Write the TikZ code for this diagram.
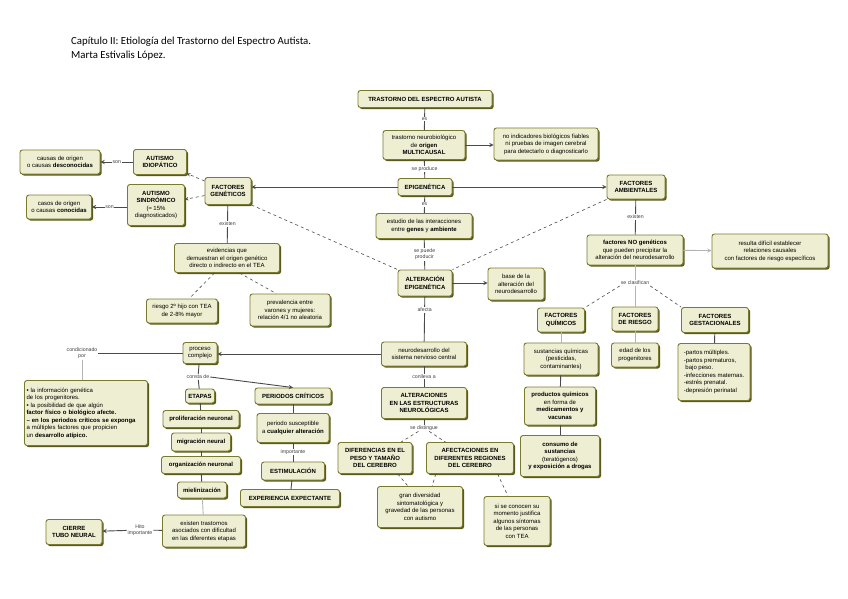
\documentclass[tikz,border=0pt]{standalone}
\usepackage{fontspec}
\setmainfont{Liberation Sans}
\newfontfamily\titulofont{Carlito}
\usetikzlibrary{shadows, positioning}

\definecolor{crema}{HTML}{EEEED2}
\definecolor{oliva}{HTML}{7A7A2E}
\definecolor{sombra}{HTML}{5A5A1C}
\definecolor{linea}{HTML}{4A4A4A}
\definecolor{lineaclara}{HTML}{B4B4B4}

\begin{document}
\begin{tikzpicture}[>=stealth, x=1pt, y=-1pt,
    caja/.style={draw=oliva, fill=crema, line width=0.9pt, rounded corners=2.5pt,
        align=center, inner sep=1.2pt, font=\fontsize{6}{7.5}\selectfont,
        drop shadow={shadow xshift=1.6pt, shadow yshift=-1.6pt, fill=sombra, opacity=1}},
    tam/.style 2 args={minimum width=#1pt, minimum height=#2pt},
    etiq/.style={fill=white, inner sep=0.8pt, font=\fontsize{5.2}{6.2}\selectfont,
        align=center, text=black!75},
    enlace/.style={draw=linea, line width=0.9pt},
    clara/.style={draw=lineaclara, line width=0.9pt},
    discont/.style={draw=linea, line width=0.6pt, dashed}]

    \useasboundingbox (0,0) rectangle (848,599);

    % =================================================================
    % 1. TÍTULO
    % =================================================================
    \node[anchor=north west, inner sep=0pt, align=left,
        font=\titulofont\fontsize{10.8}{14}\selectfont] (titulo) at (71,37)
        {Capítulo II: Etiología del Trastorno del Espectro Autista.\\
         Marta Estivalis López.};

    % =================================================================
    % 2. COLUMNA CENTRAL
    % =================================================================
    \node[caja, tam={134}{17}] (tea) at (425,99) {\textbf{TRASTORNO DEL ESPECTRO AUTISTA}};
    \node[caja, tam={82}{29}] (trast) at (424,145) {trastorno neurobiológico\\de \textbf{origen}\\\textbf{MULTICAUSAL}};
    \node[caja, tam={104}{32}] (noind) at (546,144) {no indicadores biológicos fiables\\ni pruebas de imagen cerebral\\para detectarlo o diagnosticarlo};
    \node[caja, tam={54}{17}] (epig) at (425,187) {\textbf{EPIGENÉTICA}};
    \node[caja, tam={96}{25}] (estudio) at (424,226) {estudio de las interacciones\\entre \textbf{genes} y \textbf{ambiente}};
    \node[caja, tam={54}{26}] (alterep) at (425,283) {\textbf{ALTERACIÓN}\\\textbf{EPIGENÉTICA}};
    \node[caja, tam={56}{32}] (base) at (516,284) {base de la\\alteración del\\neurodesarrollo};
    \node[caja, tam={85}{24}] (neuro) at (424,354) {neurodesarrollo del\\sistema nervioso central};
    \node[caja, tam={85}{31}] (alterac) at (424,403) {\textbf{ALTERACIONES}\\\textbf{EN LAS ESTRUCTURAS}\\\textbf{NEUROLÓGICAS}};
    \node[caja, tam={74}{31}] (difer) at (375,458) {\textbf{DIFERENCIAS EN EL}\\\textbf{PESO Y TAMAÑO}\\\textbf{DEL CEREBRO}};
    \node[caja, tam={87}{31}] (afect) at (470,458) {\textbf{AFECTACIONES EN}\\\textbf{DIFERENTES REGIONES}\\\textbf{DEL CEREBRO}};
    \node[caja, tam={85}{41}] (gran) at (420,507) {gran diversidad\\sintomatológica y\\gravedad de las personas\\con autismo};
    \node[caja, tam={66}{49}] (sicon) at (517,521) {si se conocen su\\momento justifica\\algunos síntomas\\de las personas\\con TEA};

    % =================================================================
    % 3. FACTORES GENÉTICOS (IZQUIERDA)
    % =================================================================
    \node[caja, tam={46}{27}] (fgen) at (228,191) {\textbf{FACTORES}\\\textbf{GENÉTICOS}};
    \node[caja, tam={53}{25}] (aidio) at (160,162) {\textbf{AUTISMO}\\\textbf{IDIOPÁTICO}};
    \node[caja, tam={80}{24}] (causasd) at (60,162) {causas de origen\\o causas \textbf{desconocidas}};
    \node[caja, tam={57}{41}] (asind) at (156,205) {\textbf{AUTISMO}\\\textbf{SINDRÓMICO}\\(≈ 15\%\\diagnosticados)};
    \node[caja, tam={65}{24}] (casosc) at (59,207) {casos de origen\\o causas \textbf{conocidas}};
    \node[caja, tam={105}{29}] (evid) at (227,258) {evidencias que\\demuestran el origen genético\\directo o indirecto en el TEA};
    \node[caja, tam={71}{24}] (riesgo) at (182,311) {riesgo 2º hijo con TEA\\de 2-8\% mayor};
    \node[caja, tam={80}{32}] (preval) at (290,310) {prevalencia entre\\varones y mujeres:\\relación 4/1 no aleatoria};

    % =================================================================
    % 4. FACTORES AMBIENTALES (DERECHA)
    % =================================================================
    \node[caja, tam={58}{24}] (famb) at (636,187) {\textbf{FACTORES}\\\textbf{AMBIENTALES}};
    \node[caja, tam={96}{30}] (fnogen) at (635,250) {\textbf{factores NO genéticos}\\que pueden precipitar la\\alteración del neurodesarrollo};
    \node[caja, tam={116}{34}] (dificil) at (770,251) {resulta difícil establecer\\relaciones causales\\con factores de riesgo específicos};
    \node[caja, tam={47}{24}] (fquim) at (561,320) {\textbf{FACTORES}\\\textbf{QUÍMICOS}};
    \node[caja, tam={46}{24}] (friesgo) at (635,319) {\textbf{FACTORES}\\\textbf{DE RIESGO}};
    \node[caja, tam={67}{25}] (fgest) at (715,320) {\textbf{FACTORES}\\\textbf{GESTACIONALES}};
    \node[caja, tam={74}{32}] (sust) at (561,359) {sustancias químicas\\(pesticidas,\\contaminantes)};
    \node[caja, tam={47}{24}] (edad) at (635,355) {edad de los\\progenitores};
    \node[caja, tam={72}{57}, align=left] (partos) at (714,372) {-partos múltiples.\\-partos prematuros,\\\ bajo peso.\\-infecciones maternas.\\-estrés prenatal.\\-depresión perinatal};
    \node[caja, tam={71}{38}] (prod) at (560,406) {\textbf{productos químicos}\\en forma de\\\textbf{medicamentos y}\\\textbf{vacunas}};
    \node[caja, tam={79}{41}] (consumo) at (560,456) {\textbf{consumo de}\\\textbf{sustancias}\\(teratógenos)\\\textbf{y exposición a drogas}};

    % =================================================================
    % 5. PROCESO DEL NEURODESARROLLO (ABAJO A LA IZQUIERDA)
    % =================================================================
    \node[caja, tam={34}{21}] (proceso) at (200,353) {proceso\\complejo};
    \node[caja, tam={123}{65}, align=left, text width=119pt] (izq) at (86,413)
        {\textbf{•} la información genética\\de los progenitores.\\\textbf{•} la posibilidad de que algún\\\textbf{factor físico o biológico afecte.}\\\textbf{– en los periodos críticos se exponga}\\a múltiples factores que propicien\\un \textbf{desarrollo atípico.}};
    \node[caja, tam={29}{14}] (etapas) at (200,396) {\textbf{ETAPAS}};
    \node[caja, tam={76}{17}] (prolif) at (201,419) {\textbf{proliferación neuronal}};
    \node[caja, tam={59}{18}] (migr) at (201,442) {\textbf{migración neural}};
    \node[caja, tam={79}{17}] (organ) at (201,465) {\textbf{organización neuronal}};
    \node[caja, tam={49}{16}] (miel) at (202,490) {\textbf{mielinización}};
    \node[caja, tam={83}{32}] (existen) at (204,531) {existen trastornos\\asociados con dificultad\\en las diferentes etapas};
    \node[caja, tam={56}{25}] (cierre) at (74,532) {\textbf{CIERRE}\\\textbf{TUBO NEURAL}};
    \node[caja, tam={76}{16}] (periodos) at (293,396) {\textbf{PERIODOS CRÍTICOS}};
    \node[caja, tam={72}{29}] (perisus) at (293,428) {periodo susceptible\\a \textbf{cualquier alteración}};
    \node[caja, tam={63}{18}] (estim) at (293,471) {\textbf{ESTIMULACIÓN}};
    \node[caja, tam={99}{17}] (expexp) at (290,498) {\textbf{EXPERIENCIA EXPECTANTE}};

    % =================================================================
    % 6. ETIQUETAS SUELTAS
    % =================================================================
    \node[etiq] (distingue) at (424,428) {se distingue};
    \node[etiq] (clasif) at (635,283) {se clasifican};
    \node[etiq] (condic) at (82,353) {condicionado\\por};
    \node[etiq] (consta) at (198,377) {consta de};
    \node[etiq] (hito) at (140,530) {Hito\\importante};

    % =================================================================
    % 7. CONECTORES
    % =================================================================
    \draw[enlace] (tea) -- node[etiq]{es} (trast);
    \draw[enlace, ->] (trast.east) -- (noind.west |- trast.east);
    \draw[enlace] (trast) -- node[etiq]{se produce} (epig);
    \draw[enlace, ->] (epig.west) -- (fgen.east |- epig.west);
    \draw[enlace, ->] (epig.east) -- (famb.west |- epig.east);
    \draw[enlace] (epig) -- node[etiq]{es} (estudio);
    \draw[enlace] (estudio) -- node[etiq]{se puede\\producir} (alterep);
    \draw[discont] (fgen.south east) -- (alterep.north west);
    \draw[discont] (famb.south west) -- (alterep.north east);
    \draw[enlace, ->] (alterep.east) -- (base.west |- alterep.east);
    \draw[enlace] (alterep) -- node[etiq, pos=0.3]{afecta} (neuro);
    \draw[enlace] (neuro) -- node[etiq]{conlleva a} (alterac);
    \draw[enlace, ->] (neuro.west) -- (proceso.east |- neuro.west);
    \draw[enlace] (alterac) -- (distingue);
    \draw[discont] (distingue) -- (difer);
    \draw[discont] (distingue) -- (afect);
    \draw[discont] (difer.-35) -- (gran.120);
    \draw[discont] (afect.-155) -- (gran.60);
    \draw[discont] (afect.-30) -- (sicon.110);

    % genéticos
    \draw[discont, ->] (fgen) -- (aidio);
    \draw[discont, ->] (fgen) -- (asind);
    \draw[enlace, ->] (aidio) -- node[etiq]{son} (causasd);
    \draw[enlace, ->] (asind.west |- casosc.east) -- node[etiq]{son} (casosc.east);
    \draw[enlace] (fgen) -- node[etiq]{existen} (evid);
    \draw[discont] (evid.-130) -- (riesgo.60);
    \draw[discont] (evid.-50) -- (preval.130);

    % ambientales
    \draw[enlace] (famb) -- node[etiq]{existen} (fnogen);
    \draw[clara, ->] (fnogen) -- (dificil);
    \draw[clara] (fnogen) -- (clasif);
    \draw[clara] (clasif) -- (friesgo);
    \draw[discont] (clasif.south west) -- (fquim.north east);
    \draw[discont] (clasif.south east) -- (fgest.north west);
    \draw[clara] (fquim) -- (sust);
    \draw[enlace] (sust) -- (prod);
    \draw[enlace] (prod) -- (consumo);
    \draw[clara] (friesgo) -- (edad);
    \draw[enlace] (fgest) -- (partos);

    % proceso complejo
    \draw[enlace] (proceso.west) -- (condic.east |- proceso.west);
    \draw[clara] (condic.south) -- (condic.south |- izq.north);
    \draw[enlace] (proceso) -- (consta);
    \draw[enlace] (consta) -- (etapas);
    \draw[enlace, ->] (consta.east) -- (periodos.north);
    \draw[enlace] (etapas) -- (prolif);
    \draw[enlace] (prolif) -- (migr);
    \draw[enlace] (migr) -- (organ);
    \draw[enlace] (organ) -- (miel);
    \draw[clara] (miel) -- (existen);
    \draw[enlace] (existen) -- (hito);
    \draw[enlace, ->] (hito) -- (cierre);
    \draw[enlace] (periodos) -- (perisus);
    \draw[enlace] (perisus) -- node[etiq]{importante} (estim);
    \draw[enlace] (estim) -- (expexp);

\end{tikzpicture}
\end{document}
